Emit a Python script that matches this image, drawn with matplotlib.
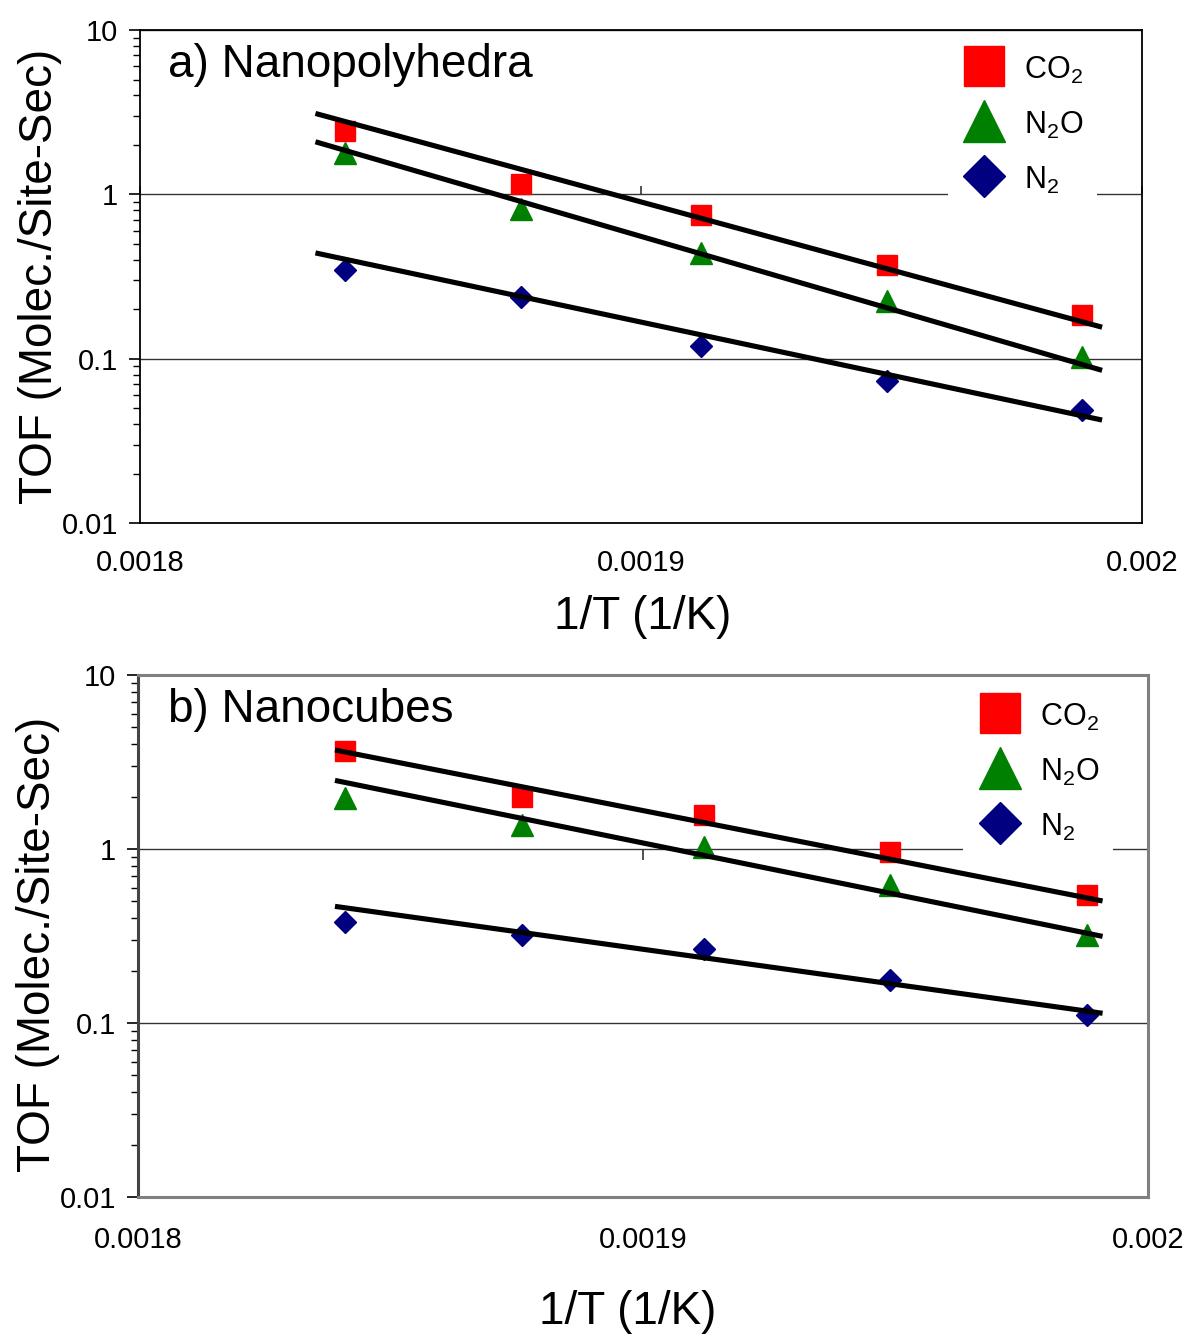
# Arrhenius plots of TOF for CO2, N2O and N2 (nanopolyhedra / nanocubes)

import numpy as np
import matplotlib
matplotlib.use("Agg")
import matplotlib.pyplot as plt
from matplotlib.lines import Line2D
from matplotlib.ticker import FixedLocator, NullFormatter, FuncFormatter

plt.rcParams['font.family'] = ['Liberation Sans', 'DejaVu Sans']
plt.rcParams['mathtext.fontset'] = 'custom'
plt.rcParams['mathtext.rm'] = 'Liberation Sans'
plt.rcParams['mathtext.it'] = 'Liberation Sans:italic'
plt.rcParams['mathtext.bf'] = 'Liberation Sans:bold'

# data: 1/T (1/K) for 270, 260, 250, 240, 230 C
inv_T = [0.001841, 0.001876, 0.001912, 0.001949, 0.001988]

species = ['CO$_2$', 'N$_2$O', 'N$_2$']

# a) nanopolyhedra
tof_a_co2 = [2.43, 1.15, 0.75, 0.37, 0.184]
tof_a_n2o = [1.79, 0.82, 0.44, 0.224, 0.103]
tof_a_n2 = [0.348, 0.236, 0.12, 0.073, 0.049]
# b) nanocubes
tof_b_co2 = [3.66, 1.99, 1.57, 0.96, 0.544]
tof_b_n2o = [1.96, 1.37, 1.03, 0.62, 0.32]
tof_b_n2 = [0.38, 0.32, 0.266, 0.177, 0.111]

# Arrhenius trendlines: Ea (kJ/mol), log10 of prefactor, and 1/T range drawn
ea_a = [158.6, 169.6, 124.0]
logA_a = [15.694, 16.576, 11.529]
fit_range_a = [0.001835, 0.001992]
ea_b = [109.3, 112.9, 77.4]
logA_b = [11.068, 11.239, 7.105]
fit_range_b = [0.001839, 0.001991]

titles = ['a) Nanopolyhedra', 'b) Nanocubes']
xticks = [0.0018, 0.0019, 0.002]
xtick_labels = ['0.0018', '0.0019', '0.002']
yticks = [0.01, 0.1, 1, 10]

colors = ['#FF0000', '#008000', '#000080']
markers = ['s', '^', 'D']
msizes = [14.5, 15.5, 11.5]
leg_sizes = [29, 30, 21]

LN10R = np.log(10) * 8.314462 / 1000.0  # kJ/mol per log10 unit

fig = plt.figure(figsize=(11.93, 13.35), dpi=100)
ax_a = fig.add_axes([0.1174, 0.6082, 0.8400, 0.3693])
ax_b = fig.add_axes([0.1157, 0.1034, 0.8466, 0.3910])

panels = [
    (ax_a, [tof_a_co2, tof_a_n2o, tof_a_n2], ea_a, logA_a, fit_range_a, titles[0]),
    (ax_b, [tof_b_co2, tof_b_n2o, tof_b_n2], ea_b, logA_b, fit_range_b, titles[1]),
]

for i, (ax, series, ea, logA, frange, title) in enumerate(panels):
    ax.set_yscale('log')
    ax.set_xlim(xticks[0], xticks[-1])
    ax.set_ylim(yticks[0], yticks[-1])

    # horizontal gridlines at major decades
    ax.yaxis.grid(True, which='major', color='#333333', lw=1.0)
    ax.set_axisbelow(True)

    xf = np.array(frange)
    for k in range(3):
        ax.plot(inv_T, series[k], ls='none', marker=markers[k], ms=msizes[k],
                color=colors[k], mec=colors[k], zorder=3)
        yf = 10 ** (logA[k] - ea[k] / LN10R * xf)
        ax.plot(xf, yf, color='black', lw=3.7, solid_capstyle='butt', zorder=4)

    # x ticks: labels "low", tick marks on the axis line at y = 1
    ax.xaxis.set_major_locator(FixedLocator(xticks))
    ax.set_xticklabels(xtick_labels, fontsize=21)
    ax.tick_params(axis='x', length=0, pad=19 if i == 0 else 21)
    ypos = (np.log10(1) - np.log10(yticks[0])) / (np.log10(yticks[-1]) - np.log10(yticks[0]))
    sec = ax.secondary_xaxis(ypos)
    sec.xaxis.set_major_locator(FixedLocator(xticks))
    sec.xaxis.set_major_formatter(NullFormatter())
    sec.tick_params(length=6 if i == 0 else 8, width=1.2, color='#333333',
                    direction='out' if i == 0 else 'in')
    for s in sec.spines.values():
        s.set_visible(False)

    # y ticks
    ax.yaxis.set_major_locator(FixedLocator(yticks))
    ax.yaxis.set_major_formatter(FuncFormatter(lambda v, p: '%g' % v))
    ax.yaxis.set_minor_formatter(NullFormatter())
    ax.tick_params(axis='y', which='major', length=8, width=1.2, pad=8,
                   labelsize=21)
    ax.tick_params(axis='y', which='minor', length=5, width=1.0)

    ax.set_ylabel('TOF (Molec./Site-Sec)', fontsize=33)
    ax.set_xlabel('1/T (1/K)', fontsize=33)
    if i == 0:
        ax.yaxis.set_label_coords(-0.078, 0.5)
        ax.xaxis.set_label_coords(0.502, -0.145)
        for s in ax.spines.values():
            s.set_color('black')
            s.set_linewidth(1.3)
    else:
        ax.yaxis.set_label_coords(-0.077, 0.483)
        ax.xaxis.set_label_coords(0.485, -0.178)
        for s in ax.spines.values():
            s.set_color('#808080')
            s.set_linewidth(2.2)
        ax.spines['left'].set_color('#444444')

    ax.text(0.028 if i == 0 else 0.0297, 0.905 if i == 0 else 0.91, title,
            transform=ax.transAxes, fontsize=33, va='baseline', ha='left')

    handles = [Line2D([], [], ls='none', marker=markers[k], ms=leg_sizes[k],
                      color=colors[k], mec=colors[k]) for k in range(3)]
    anchor = (0.806, 0.981) if i == 0 else (0.817, 0.979)
    leg = ax.legend(handles, species, loc='upper left', bbox_to_anchor=anchor,
                    fontsize=22, frameon=True, fancybox=False, framealpha=1,
                    facecolor='white', edgecolor='none', borderpad=0.45,
                    handlelength=1.5, handleheight=1.2, handletextpad=0.55,
                    labelspacing=0.72, borderaxespad=0)

fig.savefig('out.png', dpi=100)
